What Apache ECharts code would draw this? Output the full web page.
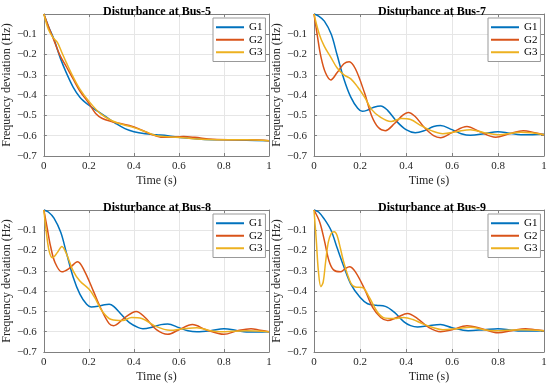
<!DOCTYPE html>
<html>
<head>
<meta charset="utf-8">
<script src="https://cdn.jsdelivr.net/npm/echarts@6/dist/echarts.min.js"></script>
<style>html,body{margin:0;padding:0;background:#fff}#c{width:550px;height:387px}</style>
</head>
<body>
<div id="c"></div>
<script>
// ---- data (time s, frequency deviation Hz) ----
const panelTitles = ['Disturbance at Bus-5', 'Disturbance at Bus-7', 'Disturbance at Bus-8', 'Disturbance at Bus-9'];
const seriesNames = ['G1', 'G2', 'G3'];
const xTickValues = [0, 0.2, 0.4, 0.6, 0.8, 1];
const yTickValues = [0, -0.1, -0.2, -0.3, -0.4, -0.5, -0.6, -0.7];

const bus5_G1 = [[0,0],[0.02,-0.06],[0.045,-0.125],[0.074,-0.22],[0.1,-0.29],[0.13,-0.36],[0.16,-0.41],[0.2,-0.45],[0.24,-0.48],[0.28,-0.51],[0.32,-0.54],[0.36,-0.565],[0.4,-0.58],[0.45,-0.59],[0.5,-0.595],[0.55,-0.6],[0.62,-0.61],[0.7,-0.617],[0.8,-0.62],[0.9,-0.622],[1,-0.625]];
const bus5_G2 = [[0,0],[0.02,-0.06],[0.045,-0.13],[0.07,-0.2],[0.1,-0.26],[0.13,-0.32],[0.16,-0.38],[0.2,-0.44],[0.23,-0.49],[0.26,-0.515],[0.3,-0.53],[0.34,-0.54],[0.38,-0.55],[0.42,-0.565],[0.47,-0.59],[0.52,-0.607],[0.56,-0.608],[0.62,-0.604],[0.67,-0.608],[0.75,-0.618],[0.85,-0.62],[0.92,-0.62],[1,-0.625]];
const bus5_G3 = [[0,0],[0.02,-0.075],[0.04,-0.115],[0.06,-0.14],[0.08,-0.19],[0.1,-0.24],[0.13,-0.31],[0.16,-0.37],[0.2,-0.43],[0.25,-0.49],[0.3,-0.525],[0.35,-0.545],[0.4,-0.56],[0.45,-0.58],[0.5,-0.6],[0.55,-0.605],[0.62,-0.61],[0.7,-0.618],[0.8,-0.62],[0.9,-0.62],[1,-0.625]];

const bus7_G1 = [[0,0],[0.02,-0.01],[0.045,-0.035],[0.075,-0.1],[0.1,-0.2],[0.13,-0.32],[0.16,-0.41],[0.19,-0.465],[0.21,-0.48],[0.23,-0.475],[0.26,-0.46],[0.29,-0.453],[0.32,-0.475],[0.36,-0.53],[0.4,-0.57],[0.44,-0.585],[0.48,-0.575],[0.52,-0.555],[0.55,-0.55],[0.6,-0.57],[0.64,-0.59],[0.68,-0.598],[0.74,-0.59],[0.8,-0.58],[0.85,-0.588],[0.9,-0.595],[0.95,-0.595],[1,-0.593]];
const bus7_G2 = [[0,0],[0.015,-0.11],[0.03,-0.21],[0.05,-0.29],[0.073,-0.325],[0.1,-0.29],[0.13,-0.245],[0.153,-0.235],[0.18,-0.27],[0.22,-0.39],[0.25,-0.5],[0.28,-0.56],[0.31,-0.575],[0.35,-0.54],[0.385,-0.5],[0.41,-0.485],[0.44,-0.505],[0.48,-0.56],[0.52,-0.6],[0.55,-0.61],[0.6,-0.585],[0.665,-0.555],[0.72,-0.58],[0.79,-0.607],[0.85,-0.59],[0.91,-0.575],[0.96,-0.585],[1,-0.595]];
const bus7_G3 = [[0,0],[0.023,-0.1],[0.045,-0.16],[0.074,-0.215],[0.1,-0.265],[0.13,-0.3],[0.16,-0.32],[0.19,-0.36],[0.22,-0.41],[0.25,-0.47],[0.29,-0.51],[0.335,-0.53],[0.38,-0.515],[0.42,-0.52],[0.465,-0.55],[0.51,-0.575],[0.56,-0.59],[0.62,-0.58],[0.68,-0.57],[0.74,-0.585],[0.8,-0.595],[0.9,-0.583],[1,-0.595]];

const bus8_G1 = [[0,0],[0.02,-0.01],[0.045,-0.04],[0.075,-0.11],[0.1,-0.21],[0.13,-0.33],[0.16,-0.415],[0.19,-0.465],[0.21,-0.478],[0.24,-0.475],[0.27,-0.467],[0.29,-0.465],[0.31,-0.475],[0.34,-0.51],[0.38,-0.555],[0.42,-0.58],[0.44,-0.585],[0.48,-0.578],[0.52,-0.565],[0.55,-0.562],[0.6,-0.58],[0.64,-0.595],[0.68,-0.6],[0.74,-0.595],[0.8,-0.585],[0.86,-0.595],[0.9,-0.602],[0.95,-0.602],[1,-0.6]];
const bus8_G2 = [[0,0],[0.015,-0.09],[0.03,-0.18],[0.05,-0.26],[0.08,-0.305],[0.11,-0.29],[0.15,-0.255],[0.18,-0.3],[0.22,-0.4],[0.255,-0.49],[0.29,-0.56],[0.31,-0.57],[0.36,-0.53],[0.41,-0.5],[0.45,-0.53],[0.5,-0.59],[0.55,-0.613],[0.6,-0.59],[0.66,-0.565],[0.72,-0.59],[0.8,-0.613],[0.86,-0.595],[0.92,-0.585],[0.96,-0.593],[1,-0.6]];
const bus8_G3 = [[0,0],[0.01,-0.1],[0.023,-0.2],[0.038,-0.235],[0.06,-0.21],[0.08,-0.18],[0.1,-0.215],[0.13,-0.3],[0.16,-0.35],[0.2,-0.39],[0.225,-0.43],[0.26,-0.5],[0.3,-0.54],[0.35,-0.545],[0.39,-0.53],[0.435,-0.535],[0.5,-0.575],[0.56,-0.593],[0.62,-0.585],[0.68,-0.58],[0.74,-0.595],[0.78,-0.6],[0.9,-0.595],[1,-0.6]];

const bus9_G1 = [[0,0],[0.02,-0.01],[0.045,-0.045],[0.074,-0.1],[0.1,-0.185],[0.13,-0.28],[0.16,-0.365],[0.2,-0.43],[0.233,-0.462],[0.27,-0.47],[0.31,-0.475],[0.35,-0.505],[0.39,-0.55],[0.42,-0.57],[0.45,-0.577],[0.5,-0.57],[0.55,-0.565],[0.6,-0.58],[0.67,-0.595],[0.74,-0.59],[0.8,-0.585],[0.86,-0.593],[0.9,-0.597],[1,-0.595]];
const bus9_G2 = [[0,0],[0.025,-0.06],[0.045,-0.15],[0.065,-0.25],[0.085,-0.295],[0.115,-0.305],[0.135,-0.29],[0.154,-0.28],[0.18,-0.305],[0.22,-0.39],[0.255,-0.48],[0.29,-0.53],[0.32,-0.545],[0.36,-0.53],[0.407,-0.51],[0.45,-0.535],[0.5,-0.58],[0.55,-0.6],[0.6,-0.59],[0.665,-0.57],[0.73,-0.585],[0.8,-0.605],[0.86,-0.595],[0.92,-0.585],[0.96,-0.59],[1,-0.595]];
const bus9_G3 = [[0,0],[0.01,-0.15],[0.019,-0.3],[0.03,-0.378],[0.04,-0.355],[0.05,-0.26],[0.062,-0.16],[0.075,-0.115],[0.088,-0.107],[0.1,-0.125],[0.115,-0.19],[0.13,-0.26],[0.16,-0.36],[0.18,-0.38],[0.21,-0.382],[0.24,-0.43],[0.277,-0.505],[0.31,-0.533],[0.35,-0.535],[0.39,-0.53],[0.43,-0.54],[0.47,-0.56],[0.52,-0.58],[0.56,-0.59],[0.62,-0.585],[0.68,-0.578],[0.74,-0.59],[0.78,-0.595],[0.9,-0.59],[1,-0.595]];

const panelData = [
  [bus5_G1, bus5_G2, bus5_G3],
  [bus7_G1, bus7_G2, bus7_G3],
  [bus8_G1, bus8_G2, bus8_G3],
  [bus9_G1, bus9_G2, bus9_G3]
];

// ---- layout / style ----
const colors = ['#0072BD', '#D95319', '#EDB120'];
const FONT = 'Liberation Serif, Times New Roman, serif';
const gridPos = [
  {left: 39, top: 14}, {left: 314, top: 14},
  {left: 39, top: 210}, {left: 314, top: 210}
];
const GW = 230, GH = 142;
const axisCol = '#808080';

const chart = echarts.init(document.getElementById('c'), null, {renderer: 'canvas'});
const grid = [], xAxis = [], yAxis = [], series = [], title = [], legend = [];
const minus = v => (v < 0 ? '\u2212' + String(Math.abs(Number(v.toFixed(2)))) : String(v));

gridPos.forEach((g, i) => {
  grid.push({left: g.left, top: g.top, width: GW, height: GH, containLabel: false});
  title.push({
    text: panelTitles[i], left: g.left + GW / 2 - 2, top: g.top - 13, textAlign: 'center',
    textStyle: {fontFamily: FONT, fontSize: 12, fontWeight: 'bold', color: '#000'}
  });
  legend.push({
    data: seriesNames.map(n => ({name: n, icon: 'rect'})), orient: 'vertical',
    left: g.left + 174, top: g.top + 4,
    itemWidth: 28, itemHeight: 2, itemGap: 0, padding: [3, 3, 3, 3],
    backgroundColor: '#fff', borderColor: '#999', borderWidth: 1, borderRadius: 0,
    itemStyle: {borderWidth: 0},
    textStyle: {fontFamily: FONT, fontSize: 11, color: '#000', lineHeight: 12.5}, selectedMode: false
  });
  // bottom x axis
  xAxis.push({
    type: 'value', gridIndex: i, min: 0, max: 1, interval: 0.2, position: 'bottom',
    name: 'Time (s)', nameLocation: 'middle', nameGap: 19,
    nameTextStyle: {fontFamily: FONT, fontSize: 12, color: '#262626'},
    axisLine: {show: true, onZero: false, lineStyle: {color: axisCol, width: 1}},
    axisTick: {show: true, inside: true, length: 3, lineStyle: {color: axisCol}},
    axisLabel: {fontFamily: FONT, fontSize: 11, color: '#262626', margin: 5,
      formatter: v => xTickValues.includes(Number(v.toFixed(2))) ? String(Number(v.toFixed(2))) : ''},
    splitLine: {show: true, lineStyle: {color: '#e6e6e6', width: 1}}
  });
  // top x axis (box)
  xAxis.push({
    type: 'value', gridIndex: i, min: 0, max: 1, interval: 0.2, position: 'top',
    axisLine: {show: true, onZero: false, lineStyle: {color: axisCol, width: 1}},
    axisTick: {show: true, inside: true, length: 3, lineStyle: {color: axisCol}},
    axisLabel: {show: false}, splitLine: {show: false}
  });
  // left y axis
  yAxis.push({
    type: 'value', gridIndex: i, min: -0.7, max: 0, interval: 0.1, position: 'left',
    name: 'Frequency deviation (Hz)', nameLocation: 'middle', nameGap: 22,
    nameTextStyle: {fontFamily: FONT, fontSize: 12, color: '#262626'},
    axisLine: {show: true, onZero: false, lineStyle: {color: axisCol, width: 1}},
    axisTick: {show: true, inside: true, length: 3, lineStyle: {color: axisCol}},
    axisLabel: {fontFamily: FONT, fontSize: 11, color: '#262626', margin: 7,
      formatter: v => (Math.abs(v) < 1e-9 ? '' : minus(v))},
    splitLine: {show: true, lineStyle: {color: '#e6e6e6', width: 1}}
  });
  // right y axis (box)
  yAxis.push({
    type: 'value', gridIndex: i, min: -0.7, max: 0, interval: 0.1, position: 'right',
    axisLine: {show: true, onZero: false, lineStyle: {color: axisCol, width: 1}},
    axisTick: {show: true, inside: true, length: 3, lineStyle: {color: axisCol}},
    axisLabel: {show: false}, splitLine: {show: false}
  });
  panelData[i].forEach((d, k) => {
    series.push({
      name: seriesNames[k], type: 'line', xAxisIndex: 2 * i, yAxisIndex: 2 * i,
      data: d, smooth: 0.35, symbol: 'none', showSymbol: false,
      lineStyle: {color: colors[k], width: 1.5}, itemStyle: {color: colors[k]},
      z: 3 + k, animation: false
    });
  });
});

chart.setOption({
  animation: false, backgroundColor: '#fff',
  title, legend, grid, xAxis, yAxis, series
});
</script>
</body>
</html>
